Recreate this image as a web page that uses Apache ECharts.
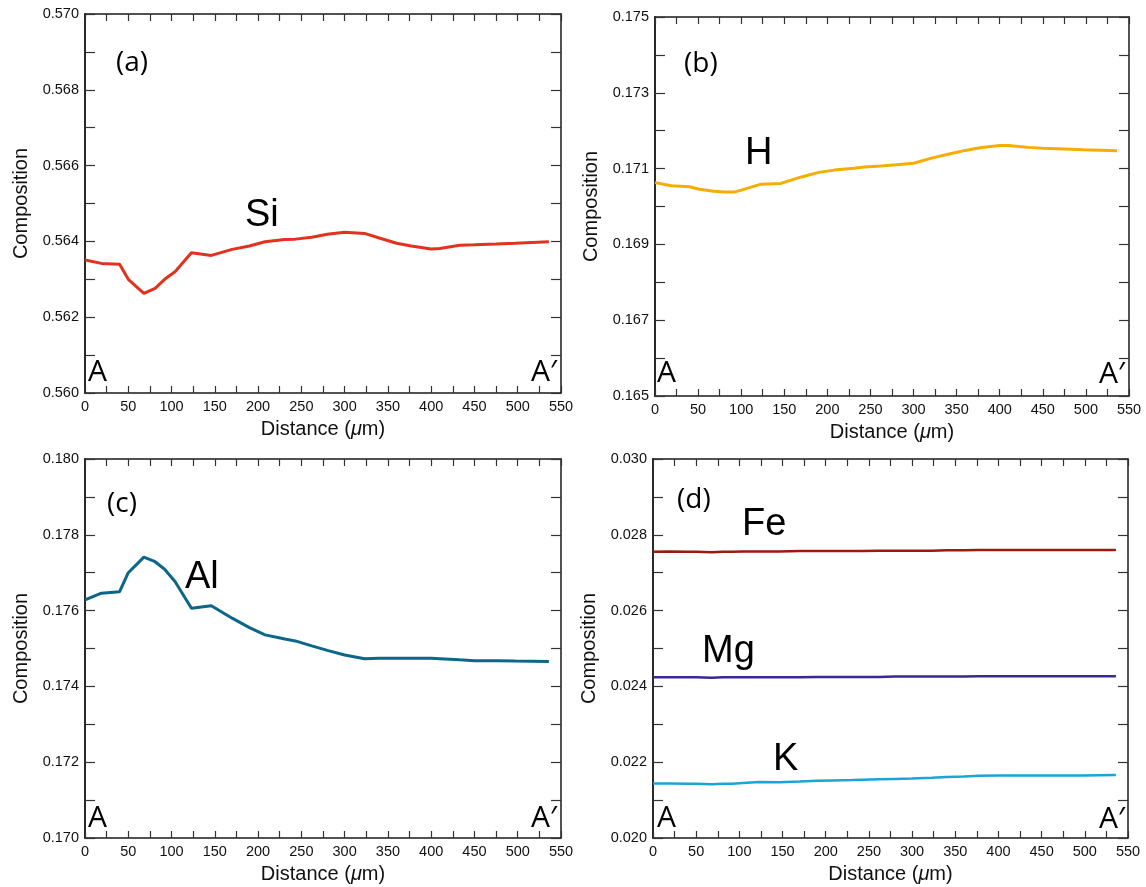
<!DOCTYPE html>
<html>
<head>
<meta charset="utf-8">
<script src="https://cdn.jsdelivr.net/npm/echarts@6/dist/echarts.min.js"></script>
<style>
html,body{margin:0;padding:0;background:#fff;}
#chart{width:1146px;height:887px;}
</style>
</head>
<body>
<div id="chart"></div>
<script>
// Distance along profile A–A' (µm)
const distance = [0, 19, 40, 50, 68, 81, 92, 104, 123, 146, 170, 190, 208, 231, 243, 262, 280, 300, 323, 340, 360, 377, 400, 410, 433, 450, 475, 497, 536];

const si = [0.56351, 0.56342, 0.56340, 0.56300, 0.56263, 0.56276, 0.56300, 0.56320, 0.56370, 0.56363, 0.56379, 0.56388, 0.56399, 0.56405, 0.56406, 0.56411, 0.56419, 0.56424, 0.56421, 0.56409, 0.56395, 0.56388, 0.56380, 0.56381, 0.56390, 0.56391, 0.56393, 0.56395, 0.56399];

const h = [0.17063, 0.17055, 0.17052, 0.17046, 0.17040, 0.17038, 0.17038, 0.17046, 0.17059, 0.17061, 0.17078, 0.17090, 0.17096, 0.17101, 0.17104, 0.17107, 0.17110, 0.17114, 0.17129, 0.17138, 0.17148, 0.17155, 0.17161, 0.17161, 0.17156, 0.17154, 0.17152, 0.17150, 0.17147];

const al = [0.17628, 0.17646, 0.17650, 0.17700, 0.17741, 0.17729, 0.17709, 0.17677, 0.17606, 0.17613, 0.17580, 0.17555, 0.17536, 0.17525, 0.17520, 0.17507, 0.17495, 0.17483, 0.17473, 0.17474, 0.17474, 0.17474, 0.17474, 0.17473, 0.17470, 0.17468, 0.17468, 0.17467, 0.17466];

const fe = [0.02755, 0.02756, 0.02755, 0.02755, 0.02754, 0.02755, 0.02755, 0.02756, 0.02756, 0.02756, 0.02757, 0.02757, 0.02757, 0.02757, 0.02757, 0.02758, 0.02758, 0.02758, 0.02758, 0.02759, 0.02759, 0.02760, 0.02760, 0.02760, 0.02760, 0.02760, 0.02760, 0.02760, 0.02760];

const mg = [0.02424, 0.02424, 0.02424, 0.02424, 0.02423, 0.02424, 0.02424, 0.02424, 0.02424, 0.02424, 0.02424, 0.02425, 0.02425, 0.02425, 0.02425, 0.02425, 0.02426, 0.02426, 0.02426, 0.02426, 0.02426, 0.02427, 0.02427, 0.02427, 0.02427, 0.02427, 0.02427, 0.02427, 0.02427];

const k = [0.02144, 0.02144, 0.02143, 0.02143, 0.02142, 0.02143, 0.02143, 0.02145, 0.02148, 0.02147, 0.02149, 0.02151, 0.02152, 0.02153, 0.02154, 0.02155, 0.02156, 0.02157, 0.02159, 0.02161, 0.02162, 0.02164, 0.02165, 0.02165, 0.02165, 0.02165, 0.02165, 0.02165, 0.02166];

// Y ranges per panel [min, max]
const yRangeA = [0.560, 0.570];
const yRangeB = [0.165, 0.175];
const yRangeC = [0.170, 0.180];
const yRangeD = [0.020, 0.030];
const xRange = [0, 550];

const FONT = "'Liberation Sans', Arial, Helvetica, sans-serif";
const LFONT = "'Open Sans', 'DejaVu Sans', sans-serif";

const grids = [
  {left: 85, top: 14, width: 476, height: 379},
  {left: 655, top: 17, width: 474, height: 379},
  {left: 85, top: 459, width: 476, height: 379},
  {left: 653, top: 459, width: 475, height: 379}
];
const yRanges = [yRangeA, yRangeB, yRangeC, yRangeD];

const xAxes = [], yAxes = [];
grids.forEach((g, i) => {
  const lineStyle = {color: '#1a1a1a', width: 1.5};
  const tick = {show: true, inside: true, length: 7, lineStyle: {color: '#333', width: 1.2}};
  const minor = {show: true, splitNumber: 2, length: 7, lineStyle: {color: '#333', width: 1.2}};
  xAxes.push({
    type: 'value', gridIndex: i, min: xRange[0], max: xRange[1], interval: 50, position: 'bottom',
    axisLine: {show: true, onZero: false, lineStyle},
    axisTick: tick, minorTick: minor, splitLine: {show: false},
    axisLabel: {show: true, margin: 6, color: '#111', fontSize: 14.5, fontFamily: FONT},
    name: 'Distance ({i|μ}m)', nameLocation: 'middle', nameGap: 26,
    nameTextStyle: {fontSize: 20, color: '#111', fontFamily: FONT, rich: {i: {fontSize: 20, fontStyle: 'italic', fontFamily: FONT, color: '#111'}}}
  });
  xAxes.push({
    type: 'value', gridIndex: i, min: xRange[0], max: xRange[1], interval: 50, position: 'top',
    axisLine: {show: true, onZero: false, lineStyle},
    axisTick: tick, minorTick: minor, splitLine: {show: false}, axisLabel: {show: false}
  });
  const yr = yRanges[i];
  const ytick = {show: true, inside: true, length: 10, lineStyle: {color: '#333', width: 1.2}};
  const yminor = {show: true, splitNumber: 2, length: 10, lineStyle: {color: '#333', width: 1.2}};
  yAxes.push({
    type: 'value', gridIndex: i, min: yr[0], max: yr[1], interval: 0.002, position: 'left',
    axisLine: {show: true, onZero: false, lineStyle: {color: '#111', width: 1.8}},
    axisTick: ytick, minorTick: yminor, splitLine: {show: false},
    axisLabel: {show: true, margin: 6, color: '#111', fontSize: 14.5, fontFamily: FONT, formatter: v => v.toFixed(3)},
    name: 'Composition', nameLocation: 'middle', nameGap: 54, nameRotate: 90,
    nameTextStyle: {fontSize: 20, color: '#111', fontFamily: FONT}
  });
  yAxes.push({
    type: 'value', gridIndex: i, min: yr[0], max: yr[1], interval: 0.002, position: 'right',
    axisLine: {show: true, onZero: false, lineStyle},
    axisTick: ytick, minorTick: yminor, splitLine: {show: false}, axisLabel: {show: false}
  });
});

function pairs(vals) { return distance.map((d, j) => [d, vals[j]]); }
function line(name, vals, panel, color, width) {
  return {
    name, type: 'line', xAxisIndex: panel * 2, yAxisIndex: panel * 2,
    data: pairs(vals), showSymbol: false, symbol: 'none', smooth: false,
    lineStyle: {color, width}, itemStyle: {color}, silent: true, animation: false
  };
}

function txt(text, left, top, size, family) {
  return {type: 'text', left, top, silent: true,
    style: {text, fill: '#000', font: size + 'px ' + family}};
}

const graphic = [
  txt('(a)', 116, 49, 28, LFONT), txt('(b)', 684, 50, 28, LFONT),
  txt('(c)', 107, 490, 28, LFONT), txt('(d)', 677, 486, 28, LFONT),
  txt('Si', 245, 197, 38, FONT), txt('H', 745, 135, 38, FONT),
  txt('Al', 185, 559, 38, FONT), txt('Fe', 742, 506, 38, FONT),
  txt('Mg', 702, 633, 38, FONT), txt('K', 773, 741, 38, FONT),
  txt('A', 88, 357, 30, LFONT), txt('A\u2032', 531, 357, 30, LFONT),
  txt('A', 657, 358, 30, LFONT), txt('A\u2032', 1099, 359, 30, LFONT),
  txt('A', 88, 803, 30, LFONT), txt('A\u2032', 531, 803, 30, LFONT),
  txt('A', 657, 803, 30, LFONT), txt('A\u2032', 1099, 804, 30, LFONT)
];

const chart = echarts.init(document.getElementById('chart'), null, {renderer: 'canvas'});
chart.setOption({
  backgroundColor: '#fff',
  animation: false,
  grid: grids,
  xAxis: xAxes,
  yAxis: yAxes,
  series: [
    line('Si', si, 0, '#e2311d', 3),
    line('H', h, 1, '#f7ac00', 3),
    line('Al', al, 2, '#0b6688', 3),
    line('Fe', fe, 3, '#9c1a0c', 2.5),
    line('Mg', mg, 3, '#382a92', 2.5),
    line('K', k, 3, '#18a6d8', 2.5)
  ],
  graphic
});
</script>
</body>
</html>
